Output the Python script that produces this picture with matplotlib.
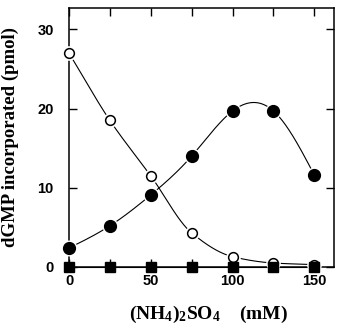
import numpy as np
import matplotlib
matplotlib.use('Agg')
import matplotlib.pyplot as plt
from matplotlib.ticker import MultipleLocator, FixedLocator

#########################################################
# data
conc = [0, 25, 50, 75, 100, 125, 150]          # (NH4)2SO4, mM
open_circ = [27.0, 18.5, 11.5, 4.3, 1.3, 0.5, 0.3]
filled_circ = [2.4, 5.2, 9.1, 14.0, 19.7, 19.7, 11.6]
filled_sq = [0, 0, 0, 0, 0, 0, 0]

#########################################################
# smooth curves drawn through the measured points
def spline(x, y, n=300):
    # natural cubic spline
    x = np.asarray(x, float)
    y = np.asarray(y, float)
    m = len(x)
    h = np.diff(x)
    A = np.zeros((m, m))
    b = np.zeros(m)
    A[0, 0] = A[-1, -1] = 1
    for i in range(1, m-1):
        A[i, i-1] = h[i-1]
        A[i, i] = 2*(h[i-1]+h[i])
        A[i, i+1] = h[i]
        b[i] = 6*((y[i+1]-y[i])/h[i] - (y[i]-y[i-1])/h[i-1])
    M = np.linalg.solve(A, b)
    xs = np.linspace(x[0], x[-1], n)
    i = np.clip(np.searchsorted(x, xs, side='right')-1, 0, m-2)
    t1 = x[i+1]-xs
    t0 = xs-x[i]
    ys = (M[i]*t1**3 + M[i+1]*t0**3)/(6*h[i]) \
        + (y[i]/h[i] - M[i]*h[i]/6)*t1 + (y[i+1]/h[i] - M[i+1]*h[i]/6)*t0
    return xs, ys

def pchip(x, y, n=300):
    # monotone cubic (Fritsch-Carlson), no overshoot
    x = np.asarray(x, float)
    y = np.asarray(y, float)
    h = np.diff(x)
    d = np.diff(y)/h
    m = np.zeros_like(y)
    m[0], m[-1] = d[0], d[-1]
    for k in range(1, len(x)-1):
        if d[k-1]*d[k] > 0:
            w1 = 2*h[k]+h[k-1]
            w2 = h[k]+2*h[k-1]
            m[k] = (w1+w2)/(w1/d[k-1]+w2/d[k])
    xs = np.linspace(x[0], x[-1], n)
    i = np.clip(np.searchsorted(x, xs, side='right')-1, 0, len(x)-2)
    t = (xs-x[i])/h[i]
    ys = (2*t**3-3*t**2+1)*y[i] + (t**3-2*t**2+t)*h[i]*m[i] \
        + (-2*t**3+3*t**2)*y[i+1] + (t**3-t**2)*h[i]*m[i+1]
    return xs, ys

fig = plt.figure(figsize=[3.42, 3.28], dpi=100)
ax = fig.add_axes([0.2018, 0.186, 0.7748, 0.7896])

lw = 0.8
xs, ys = pchip(conc, open_circ)
ax.plot(xs, ys, color='k', lw=lw, clip_on=False, zorder=2)
xs, ys = spline(conc, filled_circ)
ax.plot(xs, ys, color='k', lw=lw, clip_on=False, zorder=2)
ax.plot(conc, filled_sq, color='k', lw=lw, clip_on=False, zorder=2)

# white halo under markers to leave the gap between line and symbol
ax.plot(conc, open_circ, ls='', marker='o', ms=9.5, mfc='white', mec='white', clip_on=False, zorder=3)
ax.plot(conc, filled_circ, ls='', marker='o', ms=10.5, mfc='white', mec='white', clip_on=False, zorder=3)
ax.plot(conc, open_circ, ls='', marker='o', ms=7, mfc='white', mec='k', mew=1.1, clip_on=False, zorder=4)
ax.plot(conc, filled_circ, ls='', marker='o', ms=8.5, mfc='k', mec='k', clip_on=False, zorder=4)
ax.plot(conc, filled_sq, ls='', marker='s', ms=7, mfc='k', mec='k', clip_on=False, zorder=5)

ax.set_xlim(0, 162)
ax.set_ylim(0, 32.7)
ax.xaxis.set_major_locator(FixedLocator([0, 50, 100, 150]))
ax.xaxis.set_minor_locator(FixedLocator([25, 75, 125]))
ax.yaxis.set_major_locator(MultipleLocator(10))
ax.tick_params(which='both', direction='in', top=True, right=True, length=6, width=1.0)
ax.tick_params(axis='x', pad=5)
ax.tick_params(axis='y', pad=11)
for sp in ax.spines.values():
    sp.set_linewidth(1.1)

for lab in ax.get_xticklabels() + ax.get_yticklabels():
    lab.set_fontfamily('Liberation Sans')
    lab.set_fontweight('bold')
    lab.set_fontsize(10.5)

ax.set_ylabel('dGMP incorporated (pmol)', family='Liberation Serif', weight='bold', fontsize=13.5)
ax.yaxis.set_label_coords(-0.19, 0.5)
plt.rcParams['mathtext.default'] = 'regular'
ax.text(0.525, -0.185, '(NH$_4$)$_2$SO$_4$    (mM)', transform=ax.transAxes,
        ha='center', va='center', family='Liberation Serif', weight='bold', fontsize=14)

plt.savefig('out.png', dpi=100)
